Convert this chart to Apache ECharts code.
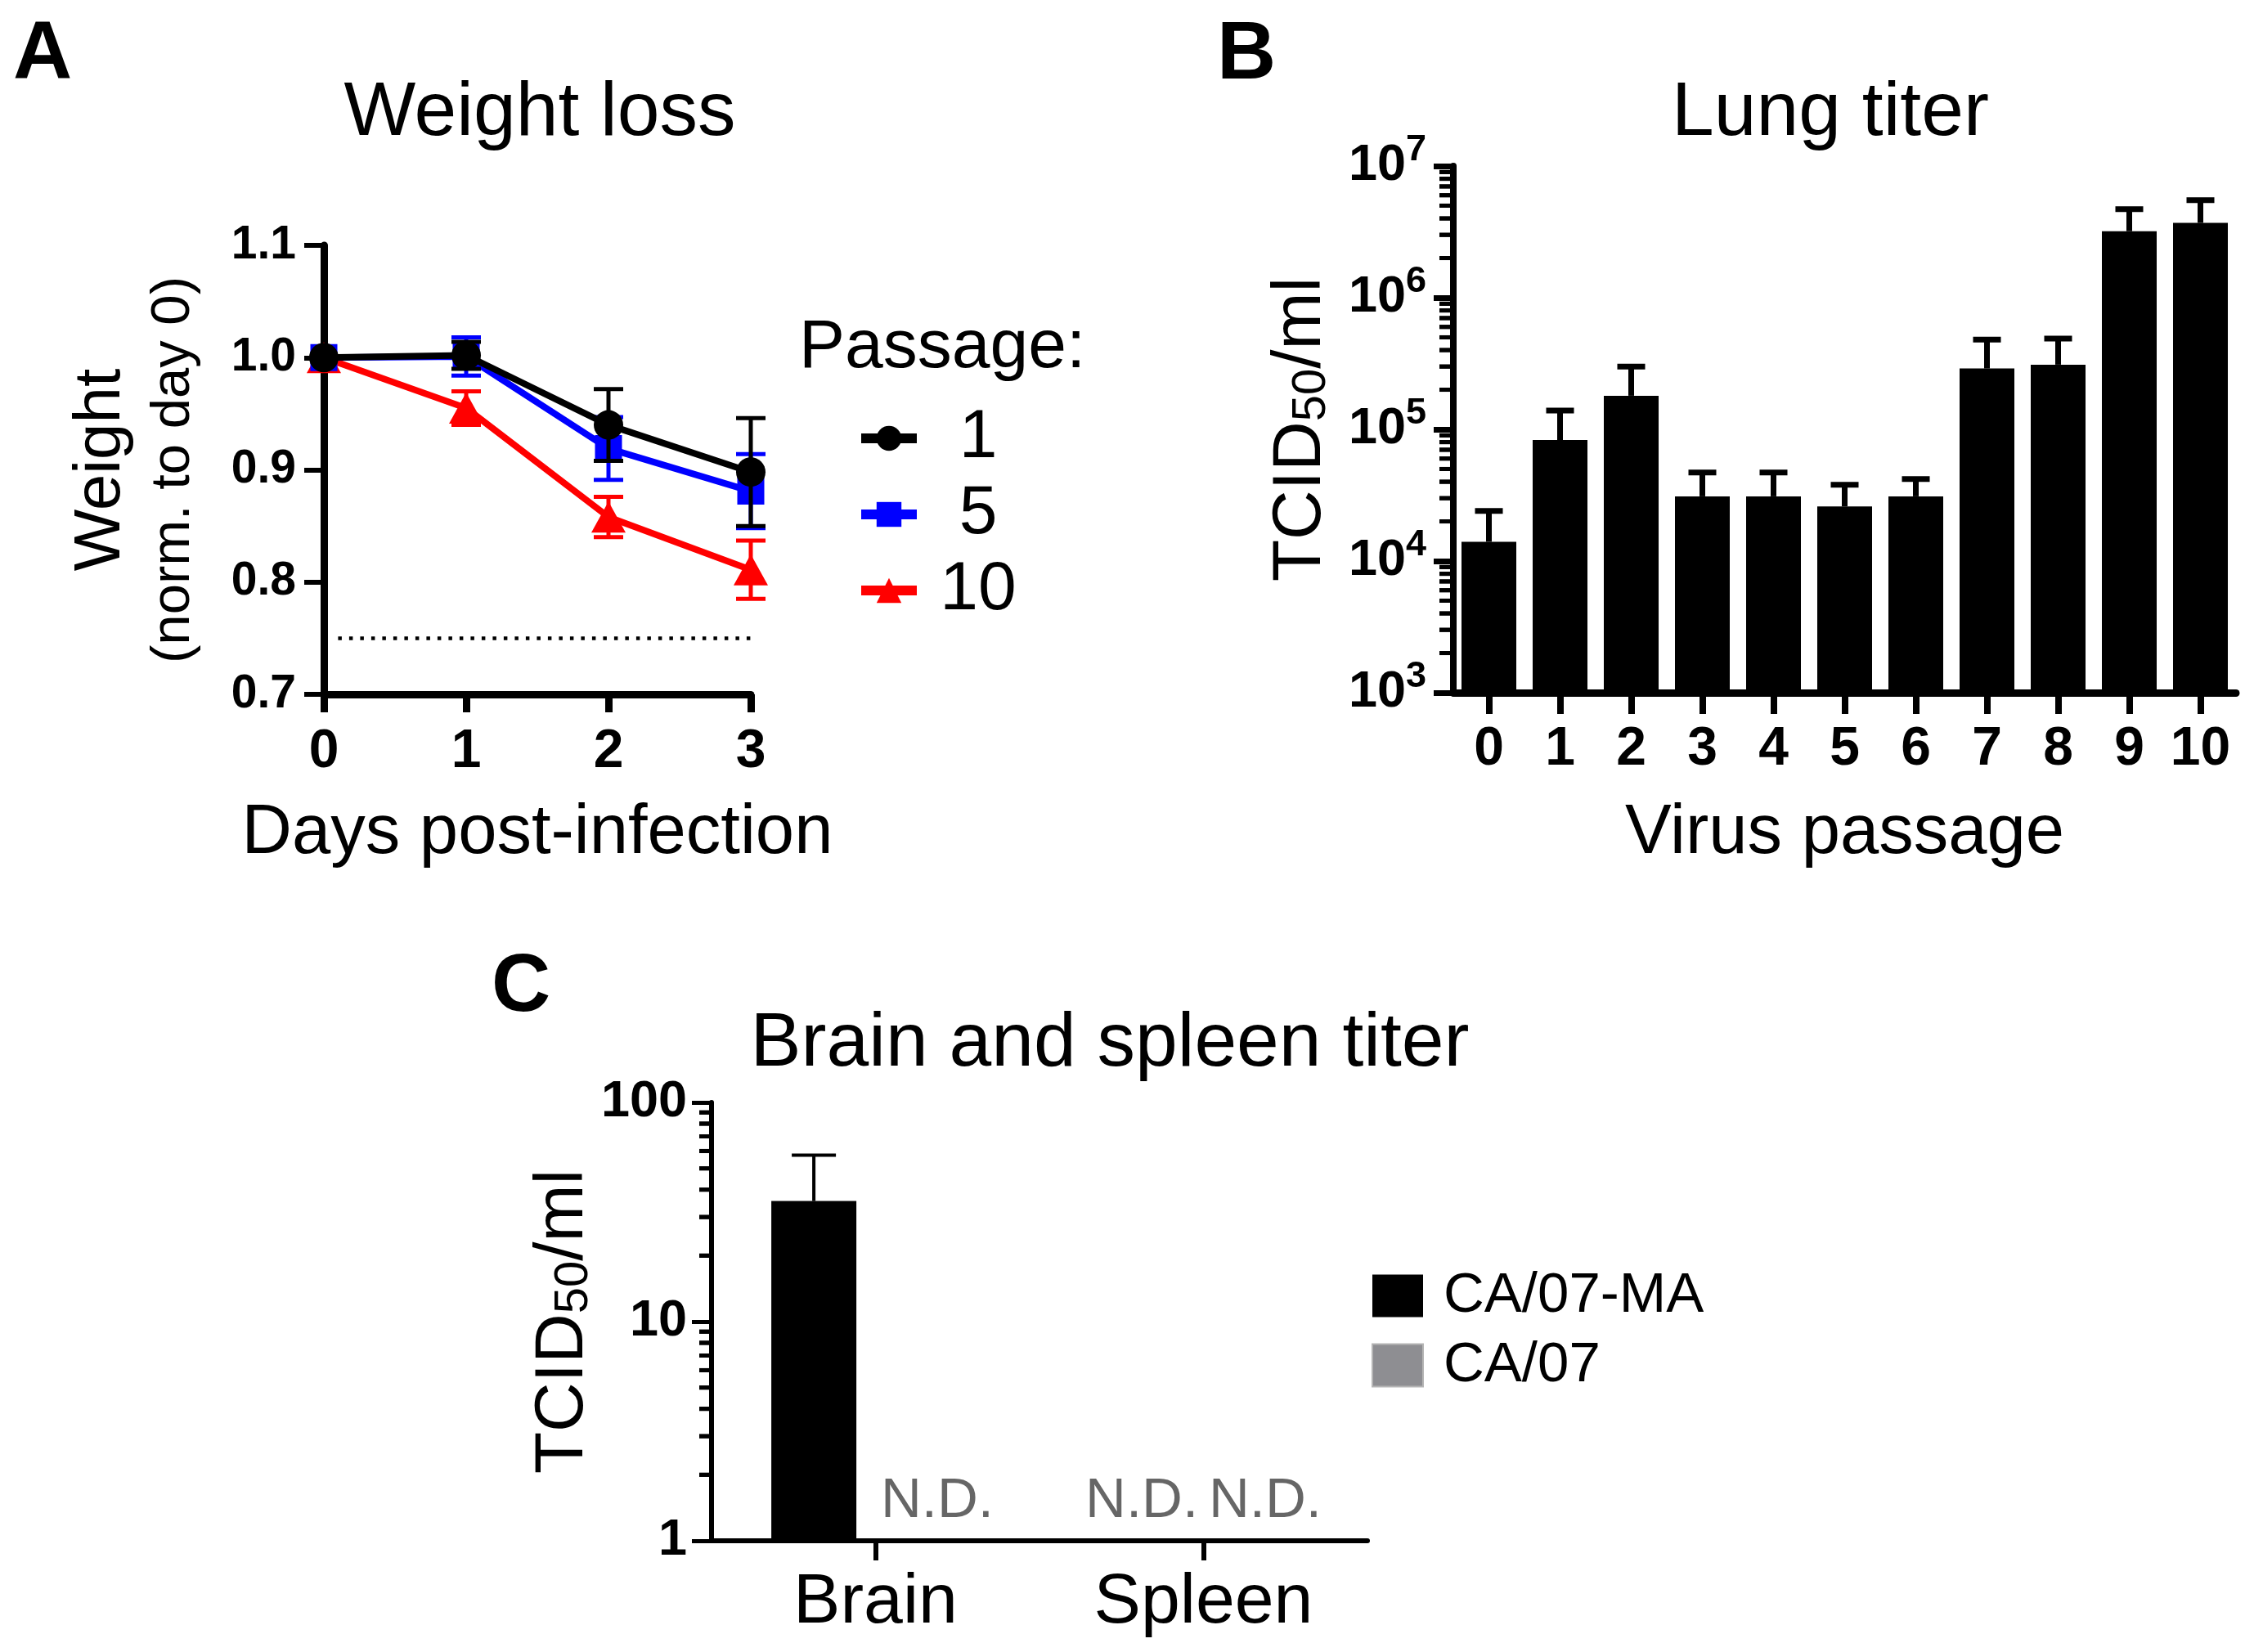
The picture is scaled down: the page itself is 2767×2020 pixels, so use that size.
<!DOCTYPE html>
<html>
<head>
<meta charset="utf-8">
<script src="https://cdn.jsdelivr.net/npm/echarts@6/dist/echarts.min.js"></script>
<style>
html,body{margin:0;padding:0;background:#fff;}
#c{width:2767px;height:2020px;}
</style>
</head>
<body>
<div id="c"></div>
<script>
// ---------------- Panel A : weight loss ----------------
const days = [0, 1, 2, 3];
const passageNames = ['1', '5', '10'];
const weightP1 = [1.000, 1.002, 0.940, 0.898];
const errP1 = [0, 0.012, 0.032, 0.048];
const weightP5 = [1.000, 1.001, 0.919, 0.881];
const errP5 = [0, 0.017, 0.028, 0.033];
const weightP10 = [1.000, 0.955, 0.858, 0.811];
const errP10 = [0, 0.015, 0.018, 0.026];
const thresholdWeight = 0.75;
const thresholdSpan = [0.1, 3.04];

// ---------------- Panel B : lung titer ----------------
const passages = ['0', '1', '2', '3', '4', '5', '6', '7', '8', '9', '10'];
const lungTiter = [1.4e4, 8.3e4, 1.8e5, 3.1e4, 3.1e4, 2.6e4, 3.1e4, 2.9e5, 3.1e5, 3.2e6, 3.7e6];
const lungSD = [1.0e4, 5.6e4, 1.2e5, 1.6e4, 1.6e4, 1.2e4, 1.1e4, 1.9e5, 1.8e5, 1.5e6, 1.8e6];
const lungMajorTicks = [1e3, 1e4, 1e5, 1e6, 1e7];

// ---------------- Panel C : brain & spleen titer ----------------
const tissues = ['Brain', 'Spleen'];
const strainNames = ['CA/07-MA', 'CA/07'];
const titerMA = [35.5, null];   // null = not detected
const sdMA = [22, null];
const titer07 = [null, null];
const organMajorTicks = [1, 10, 100];

const FONT = '"Liberation Sans", Arial, Helvetica, sans-serif';

function minorLogTicks(lo, hi) {
  const out = [];
  for (let e = lo; e < hi; e++) for (let k = 2; k <= 9; k++) out.push(k * Math.pow(10, e));
  return out;
}

function errRender(color, lw, capHalf) {
  return function (params, api) {
    const x = api.value(0), m = api.value(1), e = api.value(2);
    if (!e) return { type: 'group', children: [] };
    const hi = api.coord([x, m + e]), lo = api.coord([x, m - e]);
    const st = { stroke: color, lineWidth: lw };
    return { type: 'group', children: [
      { type: 'line', shape: { x1: hi[0], y1: hi[1], x2: lo[0], y2: lo[1] }, style: st },
      { type: 'line', shape: { x1: hi[0] - capHalf, y1: hi[1], x2: hi[0] + capHalf, y2: hi[1] }, style: st },
      { type: 'line', shape: { x1: lo[0] - capHalf, y1: lo[1], x2: lo[0] + capHalf, y2: lo[1] }, style: st }
    ]};
  };
}

function upErrRender(lw, capHalf, xShift) {
  return function (params, api) {
    const i = api.value(0), m = api.value(1), t = api.value(2);
    if (m == null || isNaN(m) || isNaN(t)) return { type: 'group', children: [] };
    const b = api.coord([i, m]), h = api.coord([i, t]);
    const x = b[0] + xShift;
    const st = { stroke: '#000', lineWidth: lw };
    return { type: 'group', children: [
      { type: 'line', shape: { x1: x, y1: b[1], x2: x, y2: h[1] }, style: st },
      { type: 'line', shape: { x1: x - capHalf, y1: h[1], x2: x + capHalf, y2: h[1] }, style: st }
    ]};
  };
}

const barWidthC = 104, barGapC = 0.45;
const offsetMA = -(barWidthC * (1 + barGapC)) / 2;

const gridARect = { left: 396, top: 300, width: 522, height: 549 };
const gridBRect = { left: 1777, top: 203, width: 957, height: 644 };
const gridCRect = { left: 870, top: 1348, width: 802, height: 536 };

const chart = echarts.init(document.getElementById('c'), null, { renderer: 'canvas', width: 2767, height: 2020 });

const axisBlack = (w) => ({ show: true, lineStyle: { color: '#000', width: w } });
const ndItem = () => ({ value: 1, label: { show: true }, itemStyle: { borderWidth: 0 } });
const g = (r) => Object.assign({ containLabel: false, outerBoundsMode: 'none' }, r);

const textGraphics = [
  { type: 'text', x: 16, y: 68, style: { text: 'A', font: 'bold 100px ' + FONT, fill: '#000', align: 'left', verticalAlign: 'middle' } },
  { type: 'text', x: 1488, y: 68, style: { text: 'B', font: 'bold 100px ' + FONT, fill: '#000', align: 'left', verticalAlign: 'middle' } },
  { type: 'text', x: 601, y: 1208, style: { text: 'C', font: 'bold 100px ' + FONT, fill: '#000', align: 'left', verticalAlign: 'middle' } },
  { type: 'text', x: 660, y: 139, style: { text: 'Weight loss', font: '93px ' + FONT, fill: '#000', align: 'center', verticalAlign: 'middle' } },
  { type: 'text', x: 2238, y: 139, style: { text: 'Lung titer', font: '93px ' + FONT, fill: '#000', align: 'center', verticalAlign: 'middle' } },
  { type: 'text', x: 1357, y: 1277, style: { text: 'Brain and spleen titer', font: '93px ' + FONT, fill: '#000', align: 'center', verticalAlign: 'middle' } },
  { type: 'text', x: 977, y: 426, style: { text: 'Passage:', font: '84px ' + FONT, fill: '#000', align: 'left', verticalAlign: 'middle' } }
];

// minor log ticks drawn by a custom series: y through the y-axis scale, x at the grid's left edge
function minorTickRender(x0, len, lw) {
  return function (params, api) {
    const p = api.coord([0, api.value(1)]);
    return { type: 'line', shape: { x1: x0, y1: p[1], x2: x0 - len, y2: p[1] },
      style: { stroke: '#000', lineWidth: lw } };
  };
}

const option = {
  animation: false,
  backgroundColor: '#fff',
  textStyle: { fontFamily: FONT, color: '#000' },
  graphic: textGraphics,
  legend: [
    {
      data: passageNames, orient: 'vertical', left: 1047, top: 494, padding: 0,
      itemWidth: 68, itemHeight: 38, itemGap: 9, selectedMode: false,
      lineStyle: { width: 12 },
      formatter: (n) => '{n|' + n + '}',
      textStyle: { fontSize: 84, color: '#000', fontFamily: FONT,
        rich: { n: { width: 140, align: 'center', fontSize: 84, color: '#000', fontFamily: FONT } } }
    },
    {
      data: [{ name: strainNames[0], icon: 'rect' }, { name: strainNames[1], icon: 'rect' }],
      orient: 'vertical', left: 1677, top: 1550, padding: 0,
      itemWidth: 62, itemHeight: 52, itemGap: 16, selectedMode: false,
      textStyle: { fontSize: 69, lineHeight: 69, color: '#000', fontFamily: FONT, padding: [0, 0, 0, 20] }
    }
  ],
  grid: [ g(gridARect), g(gridBRect), g(gridCRect) ],
  xAxis: [
    {
      type: 'value', gridIndex: 0, min: 0, max: 3, interval: 1,
      axisLine: axisBlack(9),
      axisTick: { show: true, length: 22, lineStyle: { color: '#000', width: 9 } },
      axisLabel: { margin: 38, fontSize: 66, fontWeight: 'bold', color: '#000', fontFamily: FONT },
      splitLine: { show: false },
      name: 'Days post-infection', nameLocation: 'middle', nameGap: 128,
      nameTextStyle: { fontSize: 85, lineHeight: 85, color: '#000', fontFamily: FONT }
    },
    {
      type: 'category', gridIndex: 1, data: passages, boundaryGap: true,
      axisLine: axisBlack(9),
      axisTick: { show: true, alignWithLabel: true, length: 26, lineStyle: { color: '#000', width: 8 } },
      axisLabel: { interval: 0, margin: 37, fontSize: 66, fontWeight: 'bold', color: '#000', fontFamily: FONT },
      splitLine: { show: false },
      name: 'Virus passage', nameLocation: 'middle', nameGap: 130,
      nameTextStyle: { fontSize: 85, lineHeight: 85, color: '#000', fontFamily: FONT }
    },
    {
      type: 'category', gridIndex: 2, data: tissues, boundaryGap: true,
      axisLine: axisBlack(6),
      axisTick: { show: true, alignWithLabel: true, length: 24, lineStyle: { color: '#000', width: 6 } },
      axisLabel: { interval: 0, margin: 33, fontSize: 86, color: '#000', fontFamily: FONT },
      splitLine: { show: false }
    }
  ],
  yAxis: [
    {
      type: 'value', gridIndex: 0, min: 0.7, max: 1.1, interval: 0.1,
      axisLine: axisBlack(9),
      axisTick: { show: true, length: 24, lineStyle: { color: '#000', width: 6 } },
      axisLabel: { margin: 34, fontSize: 57, fontWeight: 'bold', color: '#000', fontFamily: FONT,
        formatter: (v) => v.toFixed(1) },
      splitLine: { show: false },
      name: '{a|Weight}\n{b|(norm. to day 0)}', nameLocation: 'middle', nameRotate: 90, nameGap: 139,
      nameTextStyle: { color: '#000', fontFamily: FONT, align: 'center',
        rich: { a: { fontSize: 80, lineHeight: 90, fontFamily: FONT, color: '#000' },
                b: { fontSize: 67, lineHeight: 88, fontFamily: FONT, color: '#000' } } }
    },
    {
      type: 'log', logBase: 10, gridIndex: 1, min: 1e3, max: 1e7, startValue: 1e3,
      axisLine: axisBlack(8),
      axisTick: { show: true, length: 24, customValues: lungMajorTicks, lineStyle: { color: '#000', width: 7 } },
      axisLabel: { margin: 33, customValues: lungMajorTicks, color: '#000',
        formatter: (v) => '{b|10}{s|' + Math.round(Math.log10(v)) + '}',
        rich: { b: { fontSize: 63, lineHeight: 84, fontWeight: 'bold', color: '#000', fontFamily: FONT },
                s: { fontSize: 45, lineHeight: 45, fontWeight: 'bold', verticalAlign: 'top', color: '#000', fontFamily: FONT } } },
      splitLine: { show: false },
      name: 'TCID{sub|50}/ml', nameLocation: 'middle', nameRotate: 90, nameGap: 144,
      nameTextStyle: { fontSize: 84, lineHeight: 84, color: '#000', fontFamily: FONT,
        rich: { sub: { fontSize: 58, verticalAlign: 'bottom', color: '#000', fontFamily: FONT } } }
    },
    {
      type: 'log', logBase: 10, gridIndex: 2, min: 1, max: 100, startValue: 1,
      axisLine: axisBlack(6),
      axisTick: { show: true, length: 24, customValues: organMajorTicks, lineStyle: { color: '#000', width: 5 } },
      axisLabel: { margin: 30, customValues: organMajorTicks, fontSize: 63, fontWeight: 'bold', color: '#000', fontFamily: FONT },
      splitLine: { show: false },
      name: 'TCID{sub|50}/ml', nameLocation: 'middle', nameRotate: 90, nameGap: 104,
      nameTextStyle: { fontSize: 84, lineHeight: 84, color: '#000', fontFamily: FONT,
        rich: { sub: { fontSize: 58, verticalAlign: 'bottom', color: '#000', fontFamily: FONT } } }
    }
  ],
  series: [
    // Panel A
    { type: 'line', name: passageNames[0], xAxisIndex: 0, yAxisIndex: 0, z: 6,
      data: days.map((d, i) => [d, weightP1[i]]), symbol: 'circle', symbolSize: 36,
      lineStyle: { color: '#000', width: 8 }, itemStyle: { color: '#000' }, emphasis: { disabled: true } },
    { type: 'line', name: passageNames[1], xAxisIndex: 0, yAxisIndex: 0, z: 5,
      data: days.map((d, i) => [d, weightP5[i]]), symbol: 'rect', symbolSize: 33,
      lineStyle: { color: '#0000ff', width: 8 }, itemStyle: { color: '#0000ff' }, emphasis: { disabled: true } },
    { type: 'line', name: passageNames[2], xAxisIndex: 0, yAxisIndex: 0, z: 4,
      data: days.map((d, i) => [d, weightP10[i]]), symbol: 'triangle', symbolSize: [42, 38],
      lineStyle: { color: '#ff0000', width: 8 }, itemStyle: { color: '#ff0000' }, emphasis: { disabled: true } },
    { type: 'custom', name: 'errP1', xAxisIndex: 0, yAxisIndex: 0, z: 6, silent: true,
      data: days.map((d, i) => [d, weightP1[i], errP1[i]]), encode: { x: 0, y: 1 },
      renderItem: errRender('#000', 5, 18) },
    { type: 'custom', name: 'errP5', xAxisIndex: 0, yAxisIndex: 0, z: 5, silent: true,
      data: days.map((d, i) => [d, weightP5[i], errP5[i]]), encode: { x: 0, y: 1 },
      renderItem: errRender('#0000ff', 5, 18) },
    { type: 'custom', name: 'errP10', xAxisIndex: 0, yAxisIndex: 0, z: 4, silent: true,
      data: days.map((d, i) => [d, weightP10[i], errP10[i]]), encode: { x: 0, y: 1 },
      renderItem: errRender('#ff0000', 5, 18) },
    { type: 'line', name: 'threshold', xAxisIndex: 0, yAxisIndex: 0, z: 1, silent: true,
      data: [[thresholdSpan[0], thresholdWeight], [thresholdSpan[1], thresholdWeight]], symbol: 'none',
      lineStyle: { color: '#000', width: 4.5, type: [4.5, 9] } },
    // Panel B
    { type: 'bar', name: 'lung', xAxisIndex: 1, yAxisIndex: 1, data: lungTiter, barWidth: 67, clip: true,
      itemStyle: { color: '#000' }, emphasis: { disabled: true }, z: 2 },
    { type: 'custom', name: 'lungErr', xAxisIndex: 1, yAxisIndex: 1, z: 3, silent: true,
      data: lungTiter.map((v, i) => [i, v, v + lungSD[i]]), encode: { x: 0, y: 1 },
      renderItem: upErrRender(7, 17, 0) },
    { type: 'custom', name: 'lungMinorTicks', xAxisIndex: 1, yAxisIndex: 1, z: 5, silent: true, clip: false,
      data: minorLogTicks(3, 7).map((v) => [0, v]), encode: { x: 0, y: 1 },
      renderItem: minorTickRender(gridBRect.left, 17, 5) },
    // Panel C
    { type: 'bar', name: strainNames[0], xAxisIndex: 2, yAxisIndex: 2, barWidth: barWidthC, barGap: (barGapC * 100) + '%', clip: true,
      data: titerMA.map((v) => v == null ? ndItem() : v),
      itemStyle: { color: '#000' }, emphasis: { disabled: true },
      label: { show: false, position: 'top', distance: 14, formatter: 'N.D.', fontSize: 69, color: '#666', fontFamily: FONT } },
    { type: 'bar', name: strainNames[1], xAxisIndex: 2, yAxisIndex: 2, barWidth: barWidthC, barGap: (barGapC * 100) + '%', clip: true,
      data: titer07.map((v) => v == null ? ndItem() : v),
      itemStyle: { color: '#8e8e92', borderColor: '#b5b5b5', borderWidth: 4 }, emphasis: { disabled: true },
      label: { show: false, position: 'top', distance: 14, formatter: 'N.D.', fontSize: 69, color: '#666', fontFamily: FONT } },
    { type: 'custom', name: 'errMA', xAxisIndex: 2, yAxisIndex: 2, z: 3, silent: true,
      data: titerMA.map((v, i) => [i, v == null ? NaN : v, v == null ? NaN : v + sdMA[i]]), encode: { x: 0, y: 1 },
      renderItem: upErrRender(4, 27, offsetMA) },
    { type: 'custom', name: 'organMinorTicks', xAxisIndex: 2, yAxisIndex: 2, z: 5, silent: true, clip: false,
      data: minorLogTicks(0, 2).map((v) => [0, v]), encode: { x: 0, y: 1 },
      renderItem: minorTickRender(gridCRect.left, 15, 5) }
  ]
};

chart.setOption(option);

// Second path for the same minor ticks: y positions from the y axis scale via convertToPixel
function minorTickGraphics(yAxisIdx, x0, values, len, lw) {
  const out = [];
  values.forEach((v) => {
    let y = NaN;
    try { y = chart.convertToPixel({ yAxisIndex: yAxisIdx }, v); } catch (e) { y = NaN; }
    if (Array.isArray(y)) y = y[1];
    if (typeof y === 'number' && isFinite(y)) {
      out.push({ type: 'line', z: 100, silent: true,
        shape: { x1: x0, y1: y, x2: x0 - len, y2: y },
        style: { stroke: '#000', lineWidth: lw } });
    }
  });
  return out;
}

chart.setOption({
  graphic: textGraphics
    .concat(minorTickGraphics(1, gridBRect.left, minorLogTicks(3, 7), 17, 5))
    .concat(minorTickGraphics(2, gridCRect.left, minorLogTicks(0, 2), 15, 5))
});
</script>
</body>
</html>
